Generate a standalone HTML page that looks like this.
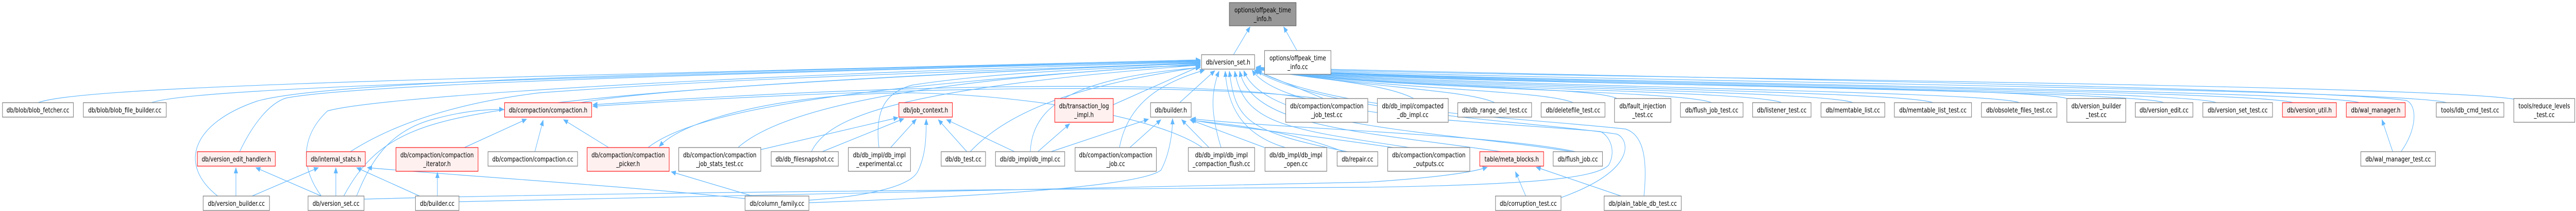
<!DOCTYPE html>
<html><head><meta charset="utf-8"><style>
html,body{margin:0;padding:0;background:#fff;width:100%;height:100%;overflow:hidden;}
svg{display:block;position:fixed;left:0;top:0;width:100vw;height:100vh;}
text{font-family:"DejaVu Sans","Liberation Sans",sans-serif;font-size:13px;fill:#000;}
.n rect{fill:#fff;stroke:#808080;stroke-width:1.3;}
.r rect{fill:#fff0f0;stroke:#ff2020;stroke-width:1.3;}
.g rect{fill:#999;stroke:#666;stroke-width:1.3;}
path.e{fill:none;stroke:#63b8ff;stroke-width:1.2;}
</style></head><body>
<svg viewBox="0 0 6213 409" preserveAspectRatio="none" xmlns="http://www.w3.org/2000/svg">
<defs><marker id="a" markerWidth="12" markerHeight="10" refX="11" refY="5" orient="auto" markerUnits="userSpaceOnUse"><path d="M0,0 L12,5 L0,10 z" fill="#63b8ff"/></marker></defs>
<g marker-end="url(#a)">
<path class="e" d="M2975,106 L3015,52"/>
<path class="e" d="M3128,98 L3096,52"/>
<path class="e" d="M92,199 C200,165 1200,150 2895,116"/>
<path class="e" d="M365,199 C470,170 1300,152 2895,117"/>
<path class="e" d="M525,380 C430,320 460,240 620,196 C780,160 1500,142 2895,118"/>
<path class="e" d="M578,294 C610,240 650,200 690,190 C850,165 1600,145 2895,119"/>
<path class="e" d="M775,380 C720,320 730,260 790,215 C900,190 1600,150 2895,120"/>
<path class="e" d="M829,380 C870,320 920,270 1050,240 C1300,180 2100,150 2895,121"/>
<path class="e" d="M845,294 C950,240 1100,200 1300,180 C1800,150 2300,140 2895,122"/>
<path class="e" d="M860,380 C900,300 950,250 1050,230 C1120,215 1170,212 1215,212"/>
<path class="e" d="M1120,286 L1270,231"/>
<path class="e" d="M1290,294 L1310,233"/>
<path class="e" d="M1468,286 L1359,232"/>
<path class="e" d="M3150,191 C3000,165 2400,150 1430,203"/>
<path class="e" d="M3180,191 C3000,170 2400,155 1430,206"/>
<path class="e" d="M1400,199 C1600,170 2300,140 2895,123"/>
<path class="e" d="M1563,286 C1700,200 2200,160 2895,124"/>
<path class="e" d="M2900,286 C2800,230 2500,185 2200,180 C1900,180 1650,230 1590,284"/>
<path class="e" d="M1780,286 C1900,200 2300,150 2895,125"/>
<path class="e" d="M1835,290 L2166,228"/>
<path class="e" d="M1957,294 C2000,220 2200,170 2895,126"/>
<path class="e" d="M1983,294 L2180,230"/>
<path class="e" d="M2120,286 C2110,220 2130,180 2200,165 C2400,140 2700,130 2895,127"/>
<path class="e" d="M2148,286 L2210,231"/>
<path class="e" d="M1951,388 C2100,380 2200,360 2215,330 C2232,300 2234,270 2234,231"/>
<path class="e" d="M1797,385 C1500,360 1100,340 886,325"/>
<path class="e" d="M1815,380 L1619,333"/>
<path class="e" d="M1951,393 C2400,380 2750,360 2800,330 C2820,300 2828,260 2828,230"/>
<path class="e" d="M1107,391 C2000,375 3000,360 3300,353 C3450,345 3550,335 3587,324"/>
<path class="e" d="M878,386 C1500,372 2600,366 3300,363 C3700,358 3850,345 3880,320 C3900,290 3880,262 3860,255 C3600,235 3100,230 3020,136"/>
<path class="e" d="M2332,294 L2263,232"/>
<path class="e" d="M2340,294 C2450,200 2650,160 2895,130"/>
<path class="e" d="M2447,294 L2283,232"/>
<path class="e" d="M2485,294 C2490,200 2600,150 2895,131"/>
<path class="e" d="M2503,294 L2580,240"/>
<path class="e" d="M2535,294 L2770,231"/>
<path class="e" d="M2685,203 L2895,128"/>
<path class="e" d="M2700,286 C2720,200 2800,160 2905,136"/>
<path class="e" d="M2725,286 L2800,232"/>
<path class="e" d="M2845,199 L2930,137"/>
<path class="e" d="M2916,286 L2850,232"/>
<path class="e" d="M2945,286 C2920,220 2920,180 2940,138"/>
<path class="e" d="M3050,286 L2870,232"/>
<path class="e" d="M3100,286 C2990,260 2960,200 2955,138"/>
<path class="e" d="M3240,294 C3100,250 2950,240 2873,233"/>
<path class="e" d="M3250,294 C3000,255 2980,230 2965,138"/>
<path class="e" d="M3400,286 C3100,250 3000,240 2978,138"/>
<path class="e" d="M3360,286 C3100,255 2950,245 2873,232"/>
<path class="e" d="M3620,294 C3300,255 3020,250 2990,138"/>
<path class="e" d="M3800,294 C3600,260 3100,250 2873,230"/>
<path class="e" d="M3790,294 C3500,255 3050,250 3000,137"/>
<path class="e" d="M3680,380 L3655,333"/>
<path class="e" d="M3765,383 C3950,330 3930,270 3900,260 C3700,235 3200,220 3025,136"/>
<path class="e" d="M3910,380 L3705,324"/>
<path class="e" d="M3965,380 C3975,300 3960,260 3920,250 C3700,230 3200,215 3028,135"/>
<path class="e" d="M3192,191 L3032,138"/>
<path class="e" d="M3410,191 C3350,166 3250,160 3030,134"/>
<path class="e" d="M3605,199 C3540,174 3300,170 3030,134"/>
<path class="e" d="M3794,199 C3730,174 3300,172 3030,134"/>
<path class="e" d="M3900,191 C3840,166 3300,170 3030,134"/>
<path class="e" d="M4128,199 C4060,174 3300,174 3030,134"/>
<path class="e" d="M4297,199 C4230,174 3300,172 3030,133"/>
<path class="e" d="M4469,199 C4400,174 3300,170 3030,133"/>
<path class="e" d="M4662,199 C4590,174 3300,168 3030,133"/>
<path class="e" d="M4870,199 C4800,174 3300,166 3030,133"/>
<path class="e" d="M4985,191 C4900,166 3300,164 3030,133"/>
<path class="e" d="M5219,199 C5150,172 3300,162 3030,132"/>
<path class="e" d="M5345,199 C5280,172 3300,160 3030,132"/>
<path class="e" d="M5530,199 C5450,172 3300,158 3030,132"/>
<path class="e" d="M5690,199 C5600,172 3300,156 3030,132"/>
<path class="e" d="M5900,199 C5800,170 3300,152 3030,131"/>
<path class="e" d="M6063,192 C5800,160 3300,148 3030,130"/>
<path class="e" d="M5771,294 L5745,232"/>
<path class="e" d="M5791,294 C5830,250 5830,205 5805,195 C5600,170 4000,150 3030,131"/>
<path class="e" d="M569,380 L569,325"/>
<path class="e" d="M775,380 L617,325"/>
<path class="e" d="M608,380 L768,325"/>
<path class="e" d="M810,380 L810,325"/>
<path class="e" d="M1012,380 L860,325"/>
<path class="e" d="M1055,380 L1055,334"/>
</g>

<g class="g"><rect x="2965" y="5" width="161" height="45"/><text x="3045.5" y="24" text-anchor="middle">options/offpeak_time</text><text x="3045.5" y="41" text-anchor="middle">_info.h</text></g>
<g class="n"><rect x="2898" y="106" width="128" height="28"/><text x="2962" y="125" text-anchor="middle">db/version_set.h</text></g>
<g class="n"><rect x="3050" y="98" width="160" height="46"/><text x="3130" y="117" text-anchor="middle">options/offpeak_time</text><text x="3130" y="134" text-anchor="middle">_info.cc</text></g>

<g class="n"><rect x="6" y="199" width="171" height="28"/><text x="91.5" y="218" text-anchor="middle">db/blob/blob_fetcher.cc</text></g>
<g class="n"><rect x="201" y="199" width="200" height="28"/><text x="301" y="218" text-anchor="middle">db/blob/blob_file_builder.cc</text></g>
<g class="r"><rect x="1217" y="199" width="210" height="28"/><text x="1322" y="218" text-anchor="middle">db/compaction/compaction.h</text></g>
<g class="r"><rect x="2168" y="199" width="129" height="28"/><text x="2232.5" y="218" text-anchor="middle">db/job_context.h</text></g>
<g class="r"><rect x="2544" y="191" width="141" height="46"/><text x="2614.5" y="210" text-anchor="middle">db/transaction_log</text><text x="2614.5" y="227" text-anchor="middle">_impl.h</text></g>
<g class="n"><rect x="2775" y="199" width="98" height="28"/><text x="2824" y="218" text-anchor="middle">db/builder.h</text></g>
<g class="n"><rect x="3101" y="191" width="198" height="46"/><text x="3200" y="210" text-anchor="middle">db/compaction/compaction</text><text x="3200" y="227" text-anchor="middle">_job_test.cc</text></g>
<g class="n"><rect x="3322" y="191" width="171" height="46"/><text x="3407.5" y="210" text-anchor="middle">db/db_impl/compacted</text><text x="3407.5" y="227" text-anchor="middle">_db_impl.cc</text></g>
<g class="n"><rect x="3516" y="199" width="178" height="28"/><text x="3605" y="218" text-anchor="middle">db/db_range_del_test.cc</text></g>
<g class="n"><rect x="3717" y="199" width="154" height="28"/><text x="3794" y="218" text-anchor="middle">db/deletefile_test.cc</text></g>
<g class="n"><rect x="3894" y="191" width="136" height="46"/><text x="3962" y="210" text-anchor="middle">db/fault_injection</text><text x="3962" y="227" text-anchor="middle">_test.cc</text></g>
<g class="n"><rect x="4053" y="199" width="151" height="28"/><text x="4128.5" y="218" text-anchor="middle">db/flush_job_test.cc</text></g>
<g class="n"><rect x="4227" y="199" width="141" height="28"/><text x="4297.5" y="218" text-anchor="middle">db/listener_test.cc</text></g>
<g class="n"><rect x="4392" y="199" width="154" height="28"/><text x="4469" y="218" text-anchor="middle">db/memtable_list.cc</text></g>
<g class="n"><rect x="4569" y="199" width="186" height="28"/><text x="4662" y="218" text-anchor="middle">db/memtable_list_test.cc</text></g>
<g class="n"><rect x="4779" y="199" width="182" height="28"/><text x="4870" y="218" text-anchor="middle">db/obsolete_files_test.cc</text></g>
<g class="n"><rect x="4985" y="191" width="142" height="46"/><text x="5056" y="210" text-anchor="middle">db/version_builder</text><text x="5056" y="227" text-anchor="middle">_test.cc</text></g>
<g class="n"><rect x="5150" y="199" width="139" height="28"/><text x="5219.5" y="218" text-anchor="middle">db/version_edit.cc</text></g>
<g class="n"><rect x="5313" y="199" width="168" height="28"/><text x="5397" y="218" text-anchor="middle">db/version_set_test.cc</text></g>
<g class="r"><rect x="5505" y="199" width="130" height="28"/><text x="5570" y="218" text-anchor="middle">db/version_util.h</text></g>
<g class="r"><rect x="5659" y="199" width="142" height="28"/><text x="5730" y="218" text-anchor="middle">db/wal_manager.h</text></g>
<g class="n"><rect x="5876" y="199" width="163" height="28"/><text x="5957.5" y="218" text-anchor="middle">tools/ldb_cmd_test.cc</text></g>
<g class="n"><rect x="6063" y="191" width="147" height="46"/><text x="6136.5" y="210" text-anchor="middle">tools/reduce_levels</text><text x="6136.5" y="227" text-anchor="middle">_test.cc</text></g>

<g class="r"><rect x="476" y="294" width="188" height="28"/><text x="570" y="313" text-anchor="middle">db/version_edit_handler.h</text></g>
<g class="r"><rect x="739" y="294" width="142" height="28"/><text x="810" y="313" text-anchor="middle">db/internal_stats.h</text></g>
<g class="r"><rect x="955" y="286" width="198" height="46"/><text x="1054" y="305" text-anchor="middle">db/compaction/compaction</text><text x="1054" y="322" text-anchor="middle">_iterator.h</text></g>
<g class="n"><rect x="1177" y="294" width="216" height="28"/><text x="1285" y="313" text-anchor="middle">db/compaction/compaction.cc</text></g>
<g class="r"><rect x="1416" y="286" width="198" height="46"/><text x="1515" y="305" text-anchor="middle">db/compaction/compaction</text><text x="1515" y="322" text-anchor="middle">_picker.h</text></g>
<g class="n"><rect x="1637" y="286" width="198" height="46"/><text x="1736" y="305" text-anchor="middle">db/compaction/compaction</text><text x="1736" y="322" text-anchor="middle">_job_stats_test.cc</text></g>
<g class="n"><rect x="1860" y="294" width="162" height="28"/><text x="1941" y="313" text-anchor="middle">db/db_filesnapshot.cc</text></g>
<g class="n"><rect x="2046" y="286" width="150" height="46"/><text x="2121" y="305" text-anchor="middle">db/db_impl/db_impl</text><text x="2121" y="322" text-anchor="middle">_experimental.cc</text></g>
<g class="n"><rect x="2270" y="294" width="107" height="28"/><text x="2323.5" y="313" text-anchor="middle">db/db_test.cc</text></g>
<g class="n"><rect x="2401" y="294" width="167" height="28"/><text x="2484.5" y="313" text-anchor="middle">db/db_impl/db_impl.cc</text></g>
<g class="n"><rect x="2593" y="286" width="196" height="46"/><text x="2691" y="305" text-anchor="middle">db/compaction/compaction</text><text x="2691" y="322" text-anchor="middle">_job.cc</text></g>
<g class="n"><rect x="2866" y="286" width="160" height="46"/><text x="2946" y="305" text-anchor="middle">db/db_impl/db_impl</text><text x="2946" y="322" text-anchor="middle">_compaction_flush.cc</text></g>
<g class="n"><rect x="3051" y="286" width="149" height="46"/><text x="3125.5" y="305" text-anchor="middle">db/db_impl/db_impl</text><text x="3125.5" y="322" text-anchor="middle">_open.cc</text></g>
<g class="n"><rect x="3225" y="294" width="98" height="28"/><text x="3274" y="313" text-anchor="middle">db/repair.cc</text></g>
<g class="n"><rect x="3347" y="286" width="198" height="46"/><text x="3446" y="305" text-anchor="middle">db/compaction/compaction</text><text x="3446" y="322" text-anchor="middle">_outputs.cc</text></g>
<g class="r"><rect x="3569" y="294" width="154" height="28"/><text x="3646" y="313" text-anchor="middle">table/meta_blocks.h</text></g>
<g class="n"><rect x="3746" y="294" width="119" height="28"/><text x="3805.5" y="313" text-anchor="middle">db/flush_job.cc</text></g>
<g class="n"><rect x="5694" y="294" width="180" height="28"/><text x="5784" y="313" text-anchor="middle">db/wal_manager_test.cc</text></g>

<g class="n"><rect x="490" y="380" width="160" height="28"/><text x="570" y="399" text-anchor="middle">db/version_builder.cc</text></g>
<g class="n"><rect x="743" y="380" width="135" height="28"/><text x="810.5" y="399" text-anchor="middle">db/version_set.cc</text></g>
<g class="n"><rect x="1002" y="380" width="105" height="28"/><text x="1054.5" y="399" text-anchor="middle">db/builder.cc</text></g>
<g class="n"><rect x="1797" y="380" width="154" height="28"/><text x="1874" y="399" text-anchor="middle">db/column_family.cc</text></g>
<g class="n"><rect x="3607" y="380" width="158" height="28"/><text x="3686" y="399" text-anchor="middle">db/corruption_test.cc</text></g>
<g class="n"><rect x="3869" y="380" width="186" height="28"/><text x="3962" y="399" text-anchor="middle">db/plain_table_db_test.cc</text></g>
</svg>
</body></html>
